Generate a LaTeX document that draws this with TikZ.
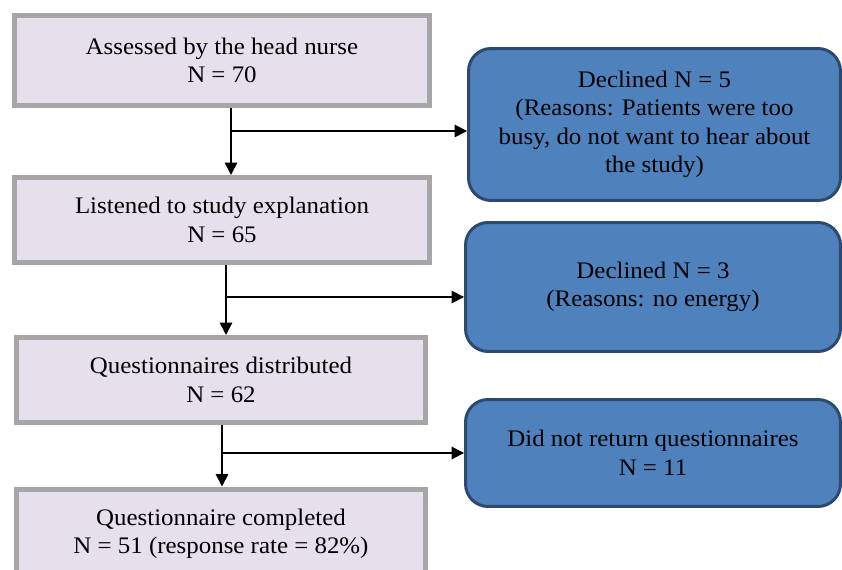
\documentclass[tikz,border=0pt]{standalone}
\usepackage{fontspec}
\setmainfont{Liberation Serif}[FakeStretch=1.05]
\usetikzlibrary{arrows.meta}
\definecolor{stagegray}{RGB}{166,166,166}
\definecolor{stagefill}{RGB}{229,224,236}
\definecolor{dropblue}{RGB}{79,129,189}
\definecolor{dropedge}{RGB}{44,74,112}
\begin{document}
\begin{tikzpicture}[x=0.02cm,y=-0.02cm,
  stage/.style={draw=stagegray, fill=stagefill, line width=0.1cm, align=center,
    inner sep=0pt, font=\fontsize{13.5}{16.2}\selectfont},
  drop/.style={draw=dropedge, fill=dropblue, line width=0.06cm, rounded corners=0.45cm,
    align=center, inner sep=0pt, font=\fontsize{13.5}{16.2}\selectfont},
  flow/.style={line width=0.035cm, -{Triangle[length=0.25cm,width=0.25cm]}}]
\useasboundingbox (0,0) rectangle (842,570);
\clip (0,0) rectangle (842,570);
%% Main stages
\node[stage, minimum width=8.3cm, minimum height=1.8cm] (assessed) at (222,60.5)
  {Assessed by the head nurse\\N = 70};
\node[stage, minimum width=8.3cm, minimum height=1.7cm] (listened) at (222,220)
  {Listened to study explanation\\N = 65};
\node[stage, minimum width=8.18cm, minimum height=1.7cm] (distributed) at (221,380)
  {Questionnaires distributed\\N = 62};
\node[stage, minimum width=8.18cm, minimum height=1.8cm] (completed) at (221,534)
  {Questionnaire completed\\N = 51 (response rate = 82\%)};
%% Drop-outs
\node[drop, minimum width=7.44cm, minimum height=3.04cm] (declinedA) at (654.5,124.5)
  {Declined N = 5\\(Reasons: Patients were too\\busy, do not want to hear about\\the study)};
\node[drop, minimum width=7.5cm, minimum height=2.58cm] (declinedB) at (653,287)
  {Declined N = 3\\(Reasons: no energy)};
\node[drop, minimum width=7.5cm, minimum height=2.14cm] (notreturned) at (653,453)
  {Did not return questionnaires\\N = 11};
%% Split points
\coordinate (splitA) at (231,131);
\coordinate (splitB) at (226,297);
\coordinate (splitC) at (222,453);
%% Arrows
\draw[flow] (assessed.south -| splitA) -- (listened.north -| splitA);
\draw[flow] (splitA) -- (splitA -| declinedA.west);
\draw[flow] (listened.south -| splitB) -- (distributed.north -| splitB);
\draw[flow] (splitB) -- (splitB -| declinedB.west);
\draw[flow] (distributed.south -| splitC) -- (completed.north -| splitC);
\draw[flow] (splitC) -- (splitC -| notreturned.west);
\end{tikzpicture}
\end{document}
